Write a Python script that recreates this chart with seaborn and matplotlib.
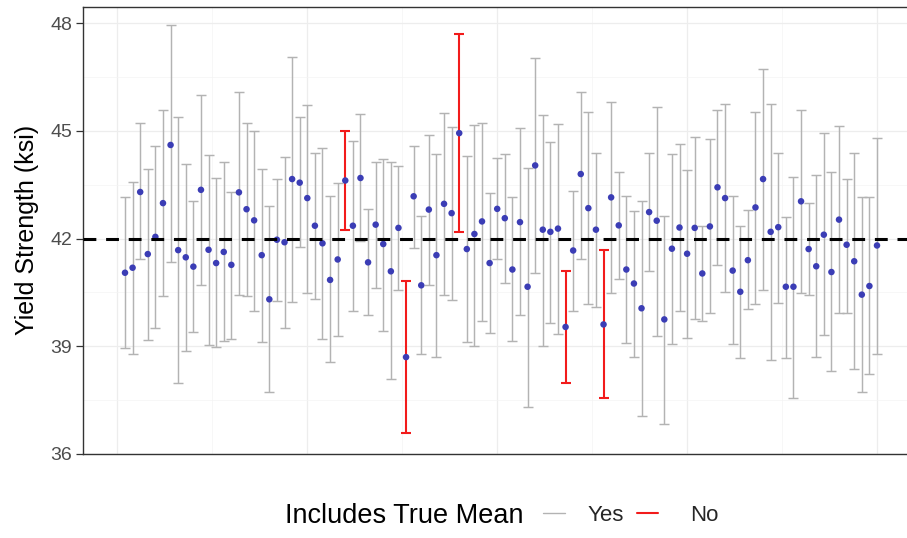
import numpy as np
import pandas as pd
import matplotlib
matplotlib.use("Agg")
import matplotlib.pyplot as plt
import seaborn as sns
from matplotlib.lines import Line2D

# ---------------- data ----------------
sample = list(range(1, 101))
means = [41.05, 41.19, 43.30, 41.57, 42.05, 42.99, 44.61, 41.68, 41.48, 41.22,
         43.36, 41.69, 41.32, 41.63, 41.27, 43.29, 42.82, 42.51, 41.54, 40.31,
         41.97, 41.90, 43.66, 43.56, 43.13, 42.36, 41.87, 40.85, 41.42, 43.62,
         42.36, 43.69, 41.34, 42.39, 41.85, 41.09, 42.30, 38.70, 43.18, 40.70,
         42.81, 41.54, 42.97, 42.71, 44.94, 41.71, 42.13, 42.48, 41.32, 42.83,
         42.57, 41.14, 42.46, 40.66, 44.04, 42.25, 42.19, 42.28, 39.54, 41.67,
         43.80, 42.85, 42.25, 39.61, 43.15, 42.37, 41.14, 40.75, 40.06, 42.74,
         42.50, 39.75, 41.72, 42.31, 41.58, 42.30, 41.03, 42.34, 43.43, 43.13,
         41.11, 40.52, 41.40, 42.87, 43.66, 42.19, 42.32, 40.66, 40.66, 43.04,
         41.71, 41.23, 42.11, 41.07, 42.53, 41.83, 41.37, 40.44, 40.68, 41.81]
uppers = [43.16, 43.59, 45.23, 43.94, 44.59, 45.58, 47.94, 45.38, 44.08, 43.05,
          46.00, 44.33, 43.69, 44.13, 43.31, 46.09, 45.23, 45.01, 43.94, 42.90,
          43.66, 44.27, 47.06, 45.38, 45.73, 44.38, 44.53, 43.18, 43.55, 45.01,
          44.73, 45.47, 42.83, 44.13, 44.22, 44.13, 44.03, 40.83, 44.59, 42.62,
          44.90, 44.35, 45.49, 45.10, 47.71, 44.31, 45.17, 45.23, 43.27, 44.24,
          44.36, 43.15, 45.07, 43.98, 47.04, 45.44, 44.68, 45.19, 41.11, 43.33,
          46.09, 45.52, 44.38, 41.69, 45.80, 43.85, 43.19, 42.78, 43.06, 44.38,
          45.68, 42.64, 44.35, 44.64, 43.92, 44.84, 42.36, 44.77, 45.58, 45.74,
          43.18, 42.34, 42.79, 45.52, 46.72, 45.74, 44.38, 42.60, 43.73, 45.58,
          42.99, 43.78, 44.94, 43.87, 45.14, 43.67, 44.38, 43.15, 43.15, 44.81]
lowers = [38.94, 38.78, 41.42, 39.19, 39.50, 40.40, 41.35, 37.97, 38.87, 39.40,
          40.70, 39.04, 38.98, 39.15, 39.21, 40.44, 40.40, 39.98, 39.12, 37.74,
          40.26, 39.50, 40.24, 41.77, 40.49, 40.33, 39.21, 38.57, 39.29, 42.25,
          39.98, 41.93, 39.86, 40.63, 39.43, 38.08, 40.56, 36.58, 41.74, 38.78,
          40.70, 38.71, 40.43, 40.29, 42.19, 39.13, 39.01, 39.70, 39.38, 41.44,
          40.77, 39.15, 39.86, 37.32, 41.05, 39.01, 39.66, 39.35, 37.97, 39.98,
          41.42, 40.19, 40.10, 37.57, 40.49, 40.88, 39.10, 38.71, 37.06, 41.09,
          39.29, 36.83, 39.07, 39.98, 39.24, 39.77, 39.70, 39.94, 41.26, 40.51,
          39.06, 38.67, 40.03, 40.19, 40.56, 38.61, 40.21, 38.67, 37.57, 40.49,
          40.42, 38.70, 39.31, 38.30, 39.94, 39.94, 38.36, 37.74, 38.22, 38.78]
true_mean = 42
y_ticks = [36, 39, 42, 45, 48]
legend_labels = ["Yes", "No"]
legend_title = "Includes True Mean"
y_label = "Yield Strength (ksi)"

df = pd.DataFrame({"sample": sample, "mean": means, "lower": lowers, "upper": uppers})
df["includes"] = np.where((df["lower"] <= true_mean) & (df["upper"] >= true_mean), "Yes", "No")

# ---------------- style ----------------
sns.set_style("white")
plt.rcParams["font.family"] = ["Liberation Sans", "DejaVu Sans"]

W, H = 907, 538
fig = plt.figure(figsize=(W / 100, H / 100), dpi=100)
ax = fig.add_axes([83.3 / W, (H - 454) / H, (W - 83.3) / W, (454 - 6.7) / H])

colors = {"Yes": "#B3B3B3", "No": "#F21B1B"}
widths = {"Yes": 1.05, "No": 1.5}

# grid
for v in [0, 25, 50, 75, 100]:
    ax.axvline(v, color="#EDEDED", lw=0.9, zorder=0)
for v in [12.5, 37.5, 62.5, 87.5]:
    ax.axvline(v, color="#F4F4F4", lw=0.5, zorder=0)
for v in y_ticks:
    ax.axhline(v, color="#EDEDED", lw=0.9, zorder=0)
for v in [37.5, 40.5, 43.5, 46.5]:
    ax.axhline(v, color="#F4F4F4", lw=0.5, zorder=0)

# intervals
for grp in ["Yes", "No"]:
    sub = df[df["includes"] == grp]
    ax.errorbar(sub["sample"], sub["mean"],
                yerr=[sub["mean"] - sub["lower"], sub["upper"] - sub["mean"]],
                fmt="none", ecolor=colors[grp], elinewidth=widths[grp],
                capsize=3.6, capthick=widths[grp], zorder=2)

# points
sns.scatterplot(data=df, x="sample", y="mean", ax=ax, color="#3B3DB5",
                s=22, edgecolor="none", zorder=3, legend=False)

# true mean line
ax.axhline(true_mean, color="black", lw=2.2, ls=(0, (4.2, 3.2)), zorder=4)

ax.set_xlim((83.3 - 117.4) / 7.596, (907 - 117.4) / 7.596)
ax.set_ylim(36, 48 + (23.3 - 6.7) / 35.9)
ax.set_yticks(y_ticks)
ax.set_yticklabels([str(t) for t in y_ticks], fontsize=14, color="#4D4D4D")
ax.set_xticks([])
ax.tick_params(axis="y", length=5, width=0.9, color="#333333", pad=3, left=True)
ax.set_xlabel("")
ax.set_ylabel(y_label, fontsize=18, color="black", labelpad=8)

for side in ["left", "top", "bottom"]:
    ax.spines[side].set_color("#333333")
    ax.spines[side].set_linewidth(1.0)
ax.spines["right"].set_visible(False)

# legend (bottom, horizontal)
ly = (H - 513) / H
fig.text(285 / W, (H - 523) / H, legend_title, fontsize=19.5, color="black",
         ha="left", va="baseline")
fig.add_artist(Line2D([543 / W, 565 / W], [ly, ly], color=colors["Yes"], lw=1.0,
                      transform=fig.transFigure))
fig.text(588 / W, (H - 521) / H, legend_labels[0], fontsize=16, ha="left", va="baseline")
fig.add_artist(Line2D([637 / W, 658 / W], [ly, ly], color=colors["No"], lw=1.5,
                      transform=fig.transFigure))
fig.text(690 / W, (H - 521) / H, legend_labels[1], fontsize=16, ha="left", va="baseline")

fig.savefig("out.png", dpi=100)
